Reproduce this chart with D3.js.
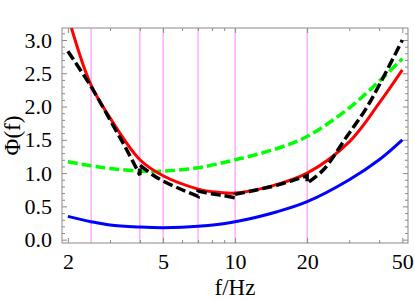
<!DOCTYPE html>
<html>
<head>
<meta charset="utf-8">
<script src="https://cdn.jsdelivr.net/npm/d3@7"></script>
<style>
  html, body { margin: 0; padding: 0; background: #fff; }
  svg { display: block; }
  text { font-family: "Liberation Serif", "Times New Roman", serif; fill: #000; }
</style>
</head>
<body>
<svg id="chart" width="415" height="300"></svg>
<script>
// ---- data ----
const xMajorTicks = [2, 5, 10, 20, 50];
const xMinorTicks = [3, 4, 6, 7, 8, 9, 30, 40];
const yMajorTicks = [0, 0.5, 1.0, 1.5, 2.0, 2.5, 3.0];
const markerFreqs = [2.5, 4, 5, 7, 10, 20];

const blueF = [2, 2.5, 3, 4, 5, 7, 10, 15, 20, 30, 40, 50];
const blueV = [0.35, 0.27, 0.22, 0.19, 0.18, 0.2, 0.27, 0.42, 0.57, 0.9, 1.2, 1.5];

const greenF = [2, 2.5, 3, 4, 5, 7, 10, 15, 20, 30, 40, 50];
const greenV = [1.17, 1.11, 1.07, 1.03, 1.03, 1.08, 1.2, 1.37, 1.55, 1.98, 2.38, 2.72];

const redF = [2.07, 2.5, 3, 4, 5, 7, 8, 10, 14, 20, 30, 40, 50];
const redV = [3.18, 2.32, 1.83, 1.2, 0.96, 0.76, 0.72, 0.70, 0.80, 1.0, 1.47, 2.05, 2.55];

// black dashed: piecewise segments between marker frequencies
const blackSegF = [
  [2, 2.5, 3, 3.5, 4],
  [4, 4.5, 5, 6, 7],
  [7, 8, 9, 10],
  [10, 12, 15, 20],
  [20, 23.4, 29.3, 35, 40.4, 50]
];
const blackSegV = [
  [2.83, 2.3, 1.8, 1.37, 0.97],
  [1.12, 0.98, 0.88, 0.75, 0.65],
  [0.73, 0.69, 0.66, 0.63],
  [0.68, 0.74, 0.82, 0.96],
  [0.85, 1.05, 1.55, 1.95, 2.35, 3.0]
];

// ---- layout ----
const svg = d3.select("#chart");
const L = 62, R = 408, T = 28, B = 243;
const x = d3.scaleLog().domain([1.89, 52.8]).range([L, R]);
const y = d3.scaleLinear().domain([-0.05, 3.18]).range([B, T]);

const frameColor = "#8a8a8a";

const defs = svg.append("defs");
defs.append("clipPath").attr("id", "clip")
  .append("rect").attr("x", L).attr("y", T).attr("width", R - L).attr("height", B - T);

// marker lines
svg.append("g").selectAll("line").data(markerFreqs).join("line")
  .attr("x1", d => x(d)).attr("x2", d => x(d))
  .attr("y1", T).attr("y2", B)
  .attr("stroke", "#ff80ff").attr("stroke-width", 1);

// axes with inward ticks on all sides
const yMinor = d3.range(0, 32).map(i => i / 10).filter(v => Math.abs(v * 2 - Math.round(v * 2)) > 1e-6);

function addAxis(axis, transform) {
  const g = svg.append("g").attr("transform", transform).call(axis);
  g.select(".domain").remove();
  g.selectAll(".tick line").attr("stroke", frameColor).attr("stroke-width", 1);
  g.selectAll("text").style("font-size", "22px").style("font-family", '"Liberation Serif", "Times New Roman", serif');
  return g;
}

addAxis(d3.axisBottom(x).tickValues(xMajorTicks).tickFormat(d3.format("d")).tickSizeInner(-5).tickSizeOuter(0).tickPadding(9),
  `translate(0,${B})`)
  .selectAll("text").attr("dy", "0.75em");
addAxis(d3.axisBottom(x).tickValues(xMinorTicks).tickFormat("").tickSizeInner(-3).tickSizeOuter(0), `translate(0,${B})`);
addAxis(d3.axisTop(x).tickValues(xMajorTicks).tickFormat("").tickSizeInner(-5).tickSizeOuter(0), `translate(0,${T})`);
addAxis(d3.axisTop(x).tickValues(xMinorTicks).tickFormat("").tickSizeInner(-3).tickSizeOuter(0), `translate(0,${T})`);
addAxis(d3.axisLeft(y).tickValues(yMajorTicks).tickFormat(d3.format(".1f")).tickSizeInner(-5).tickSizeOuter(0).tickPadding(10),
  `translate(${L},0)`);
addAxis(d3.axisLeft(y).tickValues(yMinor).tickFormat("").tickSizeInner(-3).tickSizeOuter(0), `translate(${L},0)`);
addAxis(d3.axisRight(y).tickValues(yMajorTicks).tickFormat("").tickSizeInner(-5).tickSizeOuter(0), `translate(${R},0)`);
addAxis(d3.axisRight(y).tickValues(yMinor).tickFormat("").tickSizeInner(-3).tickSizeOuter(0), `translate(${R},0)`);

// frame
svg.append("rect").attr("x", L).attr("y", T).attr("width", R - L).attr("height", B - T)
  .attr("fill", "none").attr("stroke", frameColor).attr("stroke-width", 1);

// curves
const plot = svg.append("g").attr("clip-path", "url(#clip)");
const line = d3.line().x(d => x(d[0])).y(d => y(d[1])).curve(d3.curveCatmullRom.alpha(0.5));
const zip = (a, b) => a.map((v, i) => [v, b[i]]);

plot.append("path").attr("d", line(zip(blueF, blueV)))
  .attr("fill", "none").attr("stroke", "#0000ff").attr("stroke-width", 3);
plot.append("path").attr("d", line(zip(greenF, greenV)))
  .attr("fill", "none").attr("stroke", "#00ff00").attr("stroke-width", 3.5)
  .attr("stroke-dasharray", "10,4");
plot.append("path").attr("d", line(zip(redF, redV)))
  .attr("fill", "none").attr("stroke", "#ff0000").attr("stroke-width", 3);

const blackD = blackSegF.map((fs, i) => {
  const s = line(zip(fs, blackSegV[i]));
  return i === 0 ? s : s.replace(/^M/, "L");
}).join("");
plot.append("path").attr("d", blackD)
  .attr("fill", "none").attr("stroke", "#000").attr("stroke-width", 3.5)
  .attr("stroke-dasharray", "10,4");

// axis titles
svg.append("text").attr("x", (L + R) / 2).attr("y", 295)
  .attr("text-anchor", "middle").style("font-size", "23px").text("f/Hz");
svg.append("text").attr("transform", `translate(20,${(T + B) / 2}) rotate(-90)`)
  .attr("text-anchor", "middle").style("font-size", "23px").text("Φ(f)");
</script>
</body>
</html>
